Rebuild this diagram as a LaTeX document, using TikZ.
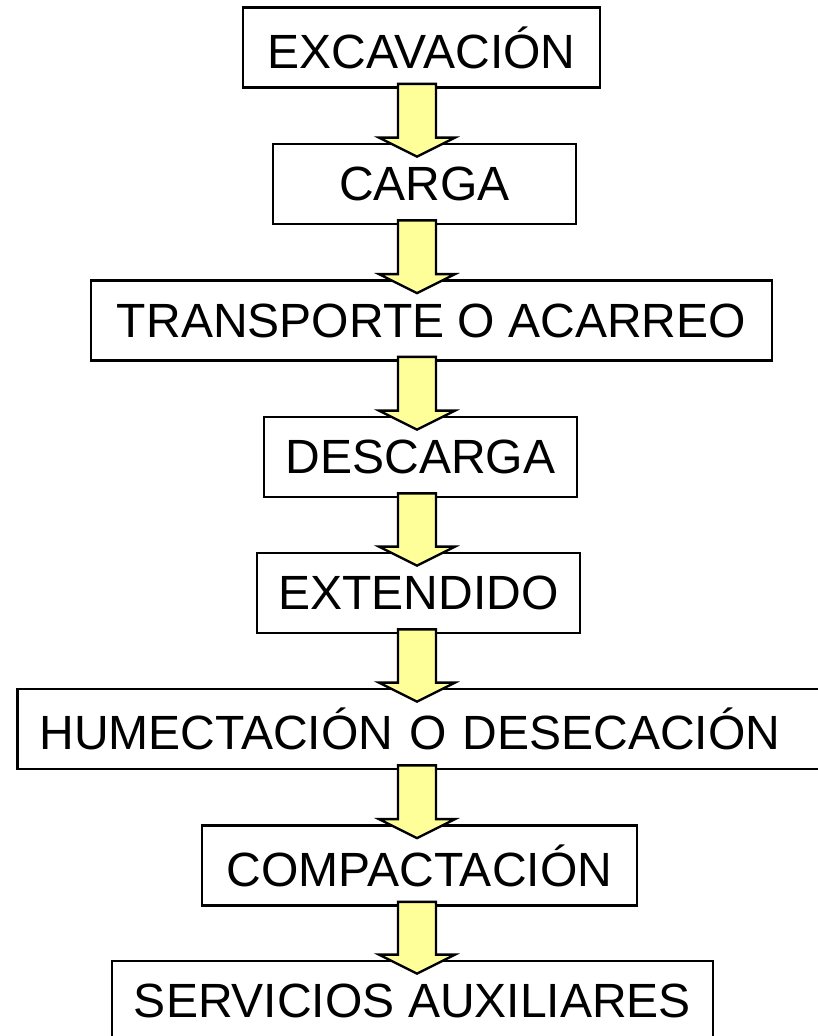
\documentclass[tikz,border=0pt]{standalone}
\usepackage{fontspec}
\setmainfont{Liberation Sans}
\usepackage{tikz}
\usetikzlibrary{calc}
\definecolor{amarillo}{HTML}{FFFF99}
\tikzset{stepbox/.style={draw, line width=2.3pt, inner sep=0pt, minimum height=2.4cm, font=\fontsize{41}{49}\selectfont}}
\tikzset{flecha/.style={draw, line width=2pt, fill=amarillo, line join=miter}}

\begin{document}
\begin{tikzpicture}[x=0.03cm,y=-0.03cm]
  \path[use as bounding box, clip] (0,0) rectangle (818,1036);
  \coordinate (axis) at (417,0);
  \foreach \x/\y/\w/\lab/\txt in {
    421.5/47.5/357/exc/EXCAVACIÓN,
    424.5/184/303/car/CARGA,
    431.5/320.5/681/tra/TRANSPORTE O ACARREO,
    420.5/457/313/des/DESCARGA,
    418.5/593/323/ext/EXTENDIDO,
    419.5/865.5/435/com/COMPACTACIÓN,
    412.5/1001/601/ser/SERVICIOS AUXILIARES%
  } {
    \node[stepbox, minimum width=\w*0.03cm] (\lab) at (\x, \y) {\txt};
  }
  \node[stepbox, anchor=west, inner xsep=0.66cm, text width=24cm, align=left] (hum) at (16, 729) {HUMECTACIÓN O DESECACIÓN};
  \foreach \u/\v in {
    exc/car,
    car/tra,
    tra/des,
    des/ext,
    ext/hum,
    hum/com,
    com/ser%
  }{
    \path (\u.south -| axis) ++(0,-5) coordinate (s);
    \path (\v.north -| axis) ++(0,14) coordinate (t);
    \draw[flecha] ($(s)+(-19,0)$) -- ($(t)+(-19,-19)$) -- ($(t)+(-38,-19)$) -- (t)
      -- ($(t)+(38,-19)$) -- ($(t)+(19,-19)$) -- ($(s)+(19,0)$) -- cycle;
  }
\end{tikzpicture}
\end{document}
